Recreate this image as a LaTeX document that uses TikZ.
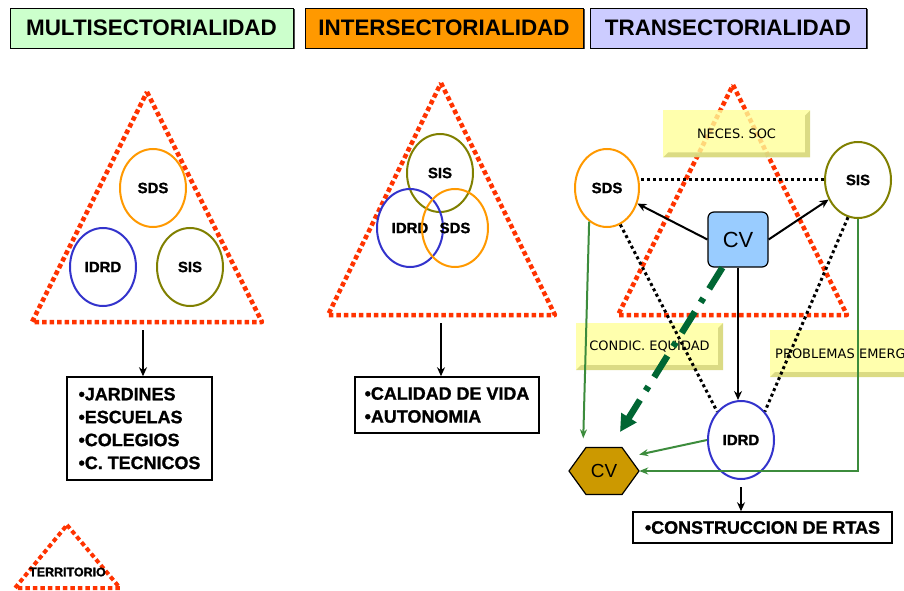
\documentclass[tikz,border=0pt]{standalone}
\usepackage{fontspec}
\setmainfont{Liberation Sans}
\newfontfamily\notefont{DejaVu Sans}
\newfontfamily\heavyfont[FakeBold=1.2]{Liberation Sans Bold}
\usetikzlibrary{shapes.geometric,arrows.meta,shadows}

\definecolor{headgreen}{HTML}{CCFFCC}
\definecolor{headorange}{HTML}{FF9900}
\definecolor{headviolet}{HTML}{CCCCFF}
\definecolor{terrred}{HTML}{FF3300}
\definecolor{sdsorange}{HTML}{FF9900}
\definecolor{idrdblue}{HTML}{3333CC}
\definecolor{sisolive}{HTML}{808000}
\definecolor{noteyellow}{HTML}{FFFF99}
\definecolor{notedark}{HTML}{D2D27A}
\definecolor{cvblue}{HTML}{99CCFF}
\definecolor{cvgold}{HTML}{CC9900}
\definecolor{flowgreen}{HTML}{3C8C3C}
\definecolor{dashgreen}{HTML}{006633}

\tikzset{
  header/.style={draw, rectangle, inner sep=0pt, minimum height=40bp,
    font=\fontsize{22.5}{22.5}\selectfont\bfseries,
    drop shadow={shadow xshift=1.5bp, shadow yshift=-1.5bp, fill=black!70, opacity=1}},
  territory/.style={draw=terrred, line width=4.5bp, dash pattern=on 4.5bp off 3bp, line join=round},
  sector/.style={ellipse, draw, line width=2bp, inner sep=0pt, minimum width=66bp,
    minimum height=78bp, font=\heavyfont\fontsize{15}{15}\selectfont},
  listbox/.style={draw, line width=1.5bp, inner sep=0pt, align=left,
    font=\heavyfont\fontsize{18}{23}\selectfont},
  flow/.style={draw, line width=2bp, -{Stealth[length=9bp,width=8bp]}},
  dotlink/.style={draw, line width=3bp, dash pattern=on 3bp off 3bp},
  greenflow/.style={draw=flowgreen, line width=2bp, -{Stealth[length=9bp,width=7bp]}},
  bigdash/.style={draw=dashgreen, line width=6.5bp, dash pattern=on 25bp off 11bp on 5bp off 11bp,
    -{Triangle[length=17bp,width=17bp]}},
  note/.style={fill=noteyellow, fill opacity=0.8, text opacity=1, inner sep=0pt,
    minimum height=47bp, font=\notefont\fontsize{13}{13}\selectfont,
    path picture={\fill[notedark] (path picture bounding box.north east)
      -- (path picture bounding box.south east) -- (path picture bounding box.south west)
      -- ([shift={(5bp,5bp)}]path picture bounding box.south west)
      -- ([shift={(-5bp,5bp)}]path picture bounding box.south east)
      -- ([shift={(-5bp,-5bp)}]path picture bounding box.north east) -- cycle;}},
  cvbox/.style={draw, fill=cvblue, rounded corners=6bp, line width=1.2bp, inner sep=0pt,
    minimum width=60bp, minimum height=55bp, font=\fontsize{22}{22}\selectfont}
}

\begin{document}
\begin{tikzpicture}[x=1bp, y=-1bp]
		%%%%% START %%%%%
		\path[use as bounding box, fill=white] (0,0) rectangle (904,591);

		% titles
		\node[header, fill=headgreen, minimum width=283bp] (multi) at (151.5,28) {MULTISECTORIALIDAD};
		\node[header, fill=headorange, minimum width=278bp] (inter) at (444,28) {INTERSECTORIALIDAD};
		\node[header, fill=headviolet, minimum width=276bp] (trans) at (728,28) {TRANSECTORIALIDAD};

		% multisectorialidad
		\draw[territory] (147,92) -- (262,322) -- (32,322) -- cycle;
		\node[sector, draw=sdsorange] (sdsM) at (153,188) {SDS};
		\node[sector, draw=idrdblue] (idrdM) at (103,267) {IDRD};
		\node[sector, draw=sisolive] (sisM) at (190,267) {SIS};
		\coordinate (baseM) at (143,330);
		\node[listbox, minimum width=145bp, minimum height=103bp] (listM) at (139.5,428.5)
			{•JARDINES\\•ESCUELAS\\•COLEGIOS\\•C. TECNICOS};
		\draw[flow] (baseM) -- (baseM |- listM.north);

		% intersectorialidad
		\draw[territory] (441,83) -- (555,315) -- (328,315) -- cycle;
		\node[sector, draw=sisolive] (sisI) at (440,173) {SIS};
		\node[sector, draw=idrdblue] (idrdI) at (410,228) {IDRD};
		\node[sector, draw=sdsorange] (sdsI) at (455,228) {SDS};
		\coordinate (baseI) at (441,323);
		\node[listbox, minimum width=184bp, minimum height=56bp] (listI) at (447,405)
			{•CALIDAD DE VIDA\\•AUTONOMIA};
		\draw[flow] (baseI) -- (baseI |- listI.north);

		% transectorialidad
		\draw[territory] (733,85) -- (847,315) -- (618,315) -- cycle;
		\node[note, minimum width=147bp] (neces) at (736.5,134) {NECES. SOC};
		\node[note, minimum width=147bp] (condic) at (649.5,346.5) {CONDIC. EQUIDAD};
		\node[note, anchor=west, text width=150bp, inner xsep=5bp, align=left] (problemas)
			at (770,353.5) {PROBLEMAS EMERG};

		\node[sector, draw=sdsorange, minimum width=64bp] (sdsT) at (607,188) {SDS};
		\node[sector, draw=sisolive, minimum height=76bp] (sisT) at (858,180) {SIS};
		\node[sector, draw=idrdblue] (idrdT) at (741,440) {IDRD};
		\node[cvbox] (cvT) at (738,239.5) {CV};

		\filldraw[fill=cvgold, line width=1.2bp] (569,471) -- (586,447.5) -- (622,447.5)
			-- (639,471) -- (622,494.5) -- (586,494.5) -- cycle;
		\node[inner sep=0pt, minimum width=70bp, minimum height=47bp,
			font=\fontsize{19}{19}\selectfont] (cvhex) at (604,471) {CV};
		\node[listbox, minimum width=259bp, minimum height=31bp] (rtas) at (762.5,527.5)
			{•CONSTRUCCION DE RTAS};

		\draw[dotlink] (sisT.west) -- (sisT.west -| sdsT.east);
		\draw[dotlink] (sdsT.-70) -- (idrdT.130);
		\draw[dotlink] (sisT.-105) -- (idrdT.50);

		\draw[flow] (cvT.west) -- (sdsT);
		\draw[flow] (cvT.east) -- (sisT);
		\draw[flow] (cvT.south) -- (cvT.south |- idrdT.north);
		\draw[flow, shorten <=7bp] (idrdT.south) -- (idrdT.south |- rtas.north);

		\draw[greenflow, shorten >=9bp] (sdsT.-118) -- ([xshift=-21bp]cvhex.north);
		\draw[greenflow] (sisT.south) -- (sisT.south |- cvhex.east) -- (cvhex.east);
		\draw[greenflow] (idrdT.west) -- (cvhex.25);

		\coordinate (eqtip) at (620,432);
		\draw[bigdash] ([xshift=15bp]cvT.south west) -- (eqtip);

		% legend
		\draw[territory, line width=4bp] (67,525) -- (120,588) -- (15,588) -- cycle;
		\node[font=\heavyfont\fontsize{12.5}{12.5}\selectfont] (territorio) at (67.5,572) {TERRITORIO};
		%%%%% END %%%%%
\end{tikzpicture}
\end{document}
